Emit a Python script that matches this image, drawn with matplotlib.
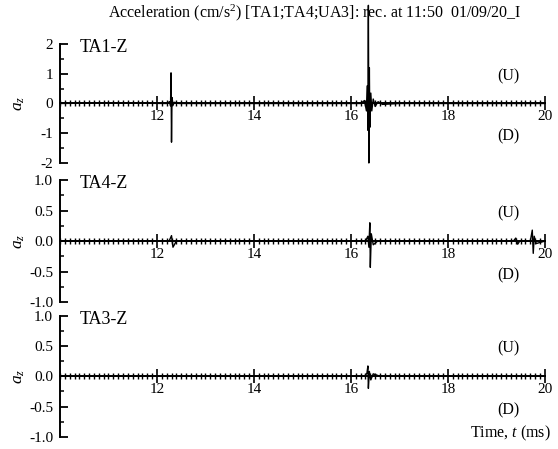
import matplotlib
matplotlib.use("Agg")
import matplotlib.pyplot as plt
import matplotlib.ticker as mticker

plt.rcParams["font.family"] = ["Liberation Serif", "DejaVu Serif"]
plt.rcParams["axes.unicode_minus"] = False
plt.rcParams["mathtext.fontset"] = "custom"
plt.rcParams["mathtext.rm"] = "Liberation Serif"
plt.rcParams["mathtext.it"] = "Liberation Serif:italic"

# ── data ──────────────────────────────────────────────────────────────────────
TITLE = "Acceleration (cm/s$^2$) [TA1;TA4;UA3]: rec. at 11:50  01/09/20_I"
LABELS = ["TA1-Z", "TA4-Z", "TA3-Z"]
YLIMS = [(-2, 2), (-1.0, 1.0), (-1.0, 1.0)]
YMAJOR = [1, 0.5, 0.5]
XTICKS = [12, 14, 16, 18, 20]

t1 = [10.0, 11.0, 12.20, 12.26, 12.28, 12.29, 12.30, 12.31, 12.33, 12.36, 12.45,
      16.20, 16.28, 16.32, 16.34, 16.35, 16.36, 16.37, 16.38, 16.39, 16.41,
      16.43, 16.46, 16.50, 16.56, 16.65, 17.0, 20.0]
a1 = [0.0, 0.02, 0.0, 0.06, -0.08, 1.03, -1.30, 0.20, -0.06, 0.04, 0.0,
      0.0, 0.10, -0.25, 0.60, -0.90, 3.30, -2.00, 1.20, -0.80, 0.35,
      -0.25, 0.15, -0.10, 0.06, -0.03, 0.0, 0.0]

t2 = [10.0, 12.25, 12.30, 12.33, 12.40, 16.30, 16.35, 16.37, 16.39, 16.40,
      16.42, 16.46, 16.55, 19.35, 19.40, 19.44, 19.48, 19.70, 19.74, 19.76,
      19.78, 19.82, 20.0]
a2 = [0.0, 0.0, 0.09, -0.10, 0.0, 0.0, 0.08, -0.10, 0.30, -0.43,
      0.12, -0.06, 0.0, 0.0, 0.05, -0.05, 0.0, 0.0, 0.18, -0.20,
      0.08, -0.04, 0.0]

t3 = [10.0, 16.28, 16.33, 16.35, 16.36, 16.38, 16.41, 16.46, 16.60, 20.0]
a3 = [0.0, 0.0, 0.05, 0.17, -0.20, 0.08, -0.06, 0.04, 0.0, 0.0]

SERIES = [(t1, a1), (t2, a2), (t3, a3)]

# ── layout ────────────────────────────────────────────────────────────────────
fig = plt.figure(figsize=(5.58, 4.49), dpi=100)
boxes = [(0.1075, 0.637, 0.869, 0.265),
         (0.1075, 0.327, 0.869, 0.272),
         (0.1075, 0.027, 0.869, 0.270)]

for i, (box, (t, a)) in enumerate(zip(boxes, SERIES)):
    ax = fig.add_axes(box)
    ax.plot(t, a, color="black", lw=1.0, clip_on=False, zorder=4)
    ax.set_xlim(10, 20)
    ax.set_ylim(*YLIMS[i])

    ax.spines["top"].set_visible(False)
    ax.spines["right"].set_visible(False)
    ax.spines["bottom"].set_position(("data", 0))
    ax.spines["left"].set_linewidth(1.4)
    ax.spines["bottom"].set_linewidth(1.4)

    ax.set_xticks(XTICKS)
    ax.set_xticklabels([str(x) for x in XTICKS])
    ax.xaxis.set_minor_locator(mticker.MultipleLocator(0.1))
    ax.tick_params(axis="x", which="major", direction="inout", length=10,
                   width=1.2, labelsize=11, pad=0)
    ax.tick_params(axis="x", which="minor", direction="inout", length=4.5,
                   width=1.0)

    ax.yaxis.set_major_locator(mticker.MultipleLocator(YMAJOR[i]))
    ax.yaxis.set_minor_locator(mticker.MultipleLocator(YMAJOR[i] / 2))
    if i == 0:
        ax.yaxis.set_major_formatter(mticker.FormatStrFormatter("%d"))
    else:
        ax.yaxis.set_major_formatter(mticker.FormatStrFormatter("%.1f"))
    ax.tick_params(axis="y", which="major", direction="in", length=5.5,
                   width=1.3, labelsize=11, pad=5)
    ax.tick_params(axis="y", which="minor", direction="in", length=3,
                   width=1.1)

    ax.set_ylabel("$a_z$", fontsize=12.5)
    ax.yaxis.set_label_coords(-0.068, 0.5)
    ax.patch.set_alpha(0)

    ax.text(0.04, 0.97, LABELS[i], transform=ax.transAxes, fontsize=13,
            va="center", ha="left")
    ax.text(0.925, 0.73, "(U)", transform=ax.transAxes, fontsize=11.5,
            va="center", ha="center")
    ax.text(0.925, 0.22, "(D)", transform=ax.transAxes, fontsize=11.5,
            va="center", ha="center")

fig.text(0.565, 0.971, TITLE, fontsize=11.5, ha="center", va="center")
fig.text(0.915, 0.034, "Time, $t$ (ms)", fontsize=11.5, ha="center", va="center")

fig.savefig("out.png", dpi=100)
